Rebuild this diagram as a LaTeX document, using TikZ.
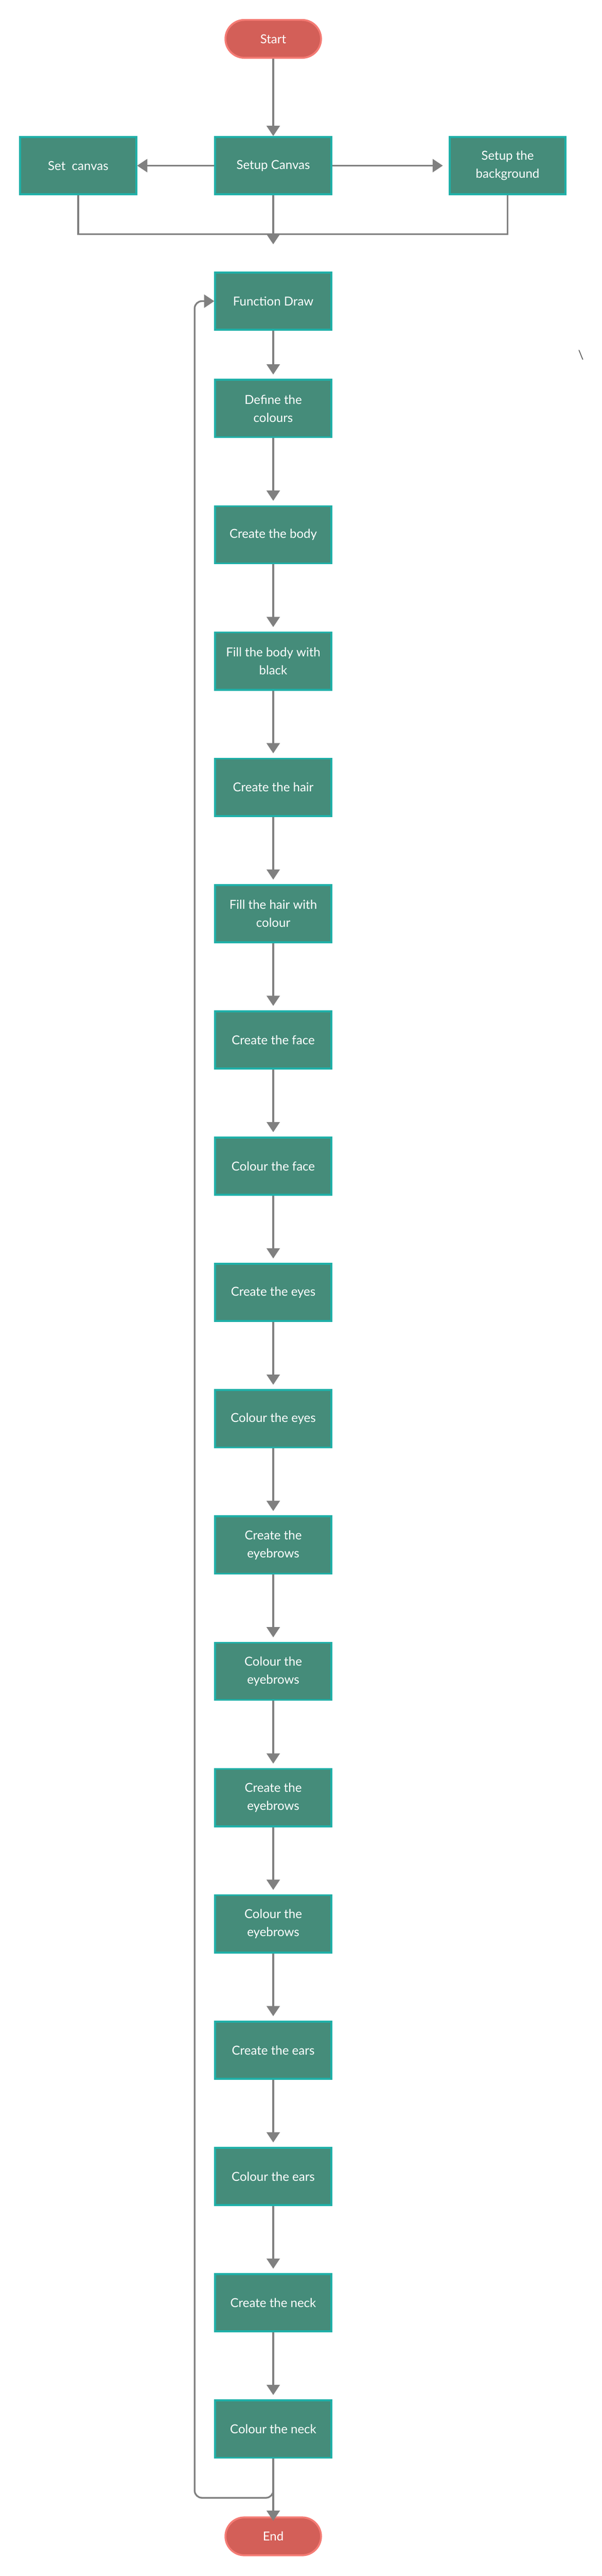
\documentclass[tikz,border=0pt]{standalone}
\usepackage{fontspec}
\setmainfont{Lato}
\usepackage{tikz}
\usetikzlibrary{arrows.meta, positioning}
\usepackage{xcolor}
\definecolor{boxfill}{HTML}{458C7A}
\definecolor{boxline}{HTML}{1FB0A8}
\definecolor{termfill}{HTML}{D35F58}
\definecolor{termline}{HTML}{F47B74}
\definecolor{linegray}{HTML}{808080}

\begin{document}
\begin{tikzpicture}[
    process/.style={rectangle, draw=boxline, fill=boxfill, line width=2.2pt, minimum height=2.36cm, minimum width=4.78cm, align=center, text=white},
    terminal/.style={rectangle, rounded corners=0.78cm, draw=termline, fill=termfill, line width=2.2pt, minimum height=1.56cm, minimum width=3.94cm, text=white},
    arrow/.style={-{Triangle[length=0.42cm, width=0.54cm]}, draw=linegray, line width=2pt},
    line/.style={draw=linegray, line width=2pt},
    node distance=2.76cm,
    every node/.append style={font=\fontsize{14.5pt}{21pt}\selectfont}
]
    \useasboundingbox (0,0) rectangle (24.8,-106.02);
    \node[terminal] (start) at (11.26,-1.6) {Start};
    \node[process, below=3.18cm of start] (setup) {Setup Canvas};
    \node[process, left=3.18cm of setup] (setcanvas) {Set\ \ canvas};
    \node[process, right=4.8cm of setup] (background) {Setup the\\background};
    \node[process, below=3.14cm of setup] (fdraw) {Function Draw};
    \node[process, below=1.98cm of fdraw] (define) {Define the\\colours};
    \node[process, below=of define] (body) {Create the body};
    \node[process, below=of body] (fillbody) {Fill the body with\\black};
    \node[process, below=of fillbody] (hair) {Create the hair};
    \node[process, below=of hair] (fillhair) {Fill the hair with\\colour};
    \node[process, below=of fillhair] (face) {Create the face};
    \node[process, below=of face] (colface) {Colour the face};
    \node[process, below=of colface] (eyes) {Create the eyes};
    \node[process, below=of eyes] (coleyes) {Colour the eyes};
    \node[process, below=of coleyes] (brows) {Create the\\eyebrows};
    \node[process, below=of brows] (colbrows) {Colour the\\eyebrows};
    \node[process, below=of colbrows] (browsb) {Create the\\eyebrows};
    \node[process, below=of browsb] (colbrowsb) {Colour the\\eyebrows};
    \node[process, below=of colbrowsb] (ears) {Create the ears};
    \node[process, below=of ears] (colears) {Colour the ears};
    \node[process, below=of colears] (neck) {Create the neck};
    \node[process, below=of neck] (colneck) {Colour the neck};
    \node[terminal, below=2.38cm of colneck] (stop) {End};
    \node[text=linegray!60!black] (slash) at (23.94,-14.62) {\textbackslash};
    \coordinate[below=2.02cm of setup.south] (merge);
    \coordinate[below=1.6cm of setup.south] (join);
    \coordinate (loopx) at (8.02,-102.8);
    \draw[arrow] (start) -- (setup);
    \draw[arrow] (setup) -- (setcanvas);
    \draw[arrow, shorten >=0.24cm] (setup) -- (background);
    \draw[arrow] (setup) -- (merge);
    \draw[line] (setcanvas.south) |- (join) -| (background.south);
    \draw[arrow, shorten >=0.18cm] (fdraw) -- (define);
    \draw[arrow, shorten >=0.18cm] (define) -- (body);
    \draw[arrow, shorten >=0.18cm] (body) -- (fillbody);
    \draw[arrow, shorten >=0.18cm] (fillbody) -- (hair);
    \draw[arrow, shorten >=0.18cm] (hair) -- (fillhair);
    \draw[arrow, shorten >=0.18cm] (fillhair) -- (face);
    \draw[arrow, shorten >=0.18cm] (face) -- (colface);
    \draw[arrow, shorten >=0.18cm] (colface) -- (eyes);
    \draw[arrow, shorten >=0.18cm] (eyes) -- (coleyes);
    \draw[arrow, shorten >=0.18cm] (coleyes) -- (brows);
    \draw[arrow, shorten >=0.18cm] (brows) -- (colbrows);
    \draw[arrow, shorten >=0.18cm] (colbrows) -- (browsb);
    \draw[arrow, shorten >=0.18cm] (browsb) -- (colbrowsb);
    \draw[arrow, shorten >=0.18cm] (colbrowsb) -- (ears);
    \draw[arrow, shorten >=0.18cm] (ears) -- (colears);
    \draw[arrow, shorten >=0.18cm] (colears) -- (neck);
    \draw[arrow, shorten >=0.18cm] (neck) -- (colneck);
    \draw[arrow, shorten >=-0.18cm] (colneck) -- (stop);
    \draw[arrow, rounded corners=0.3cm] (colneck.south) |- (loopx) |- (fdraw.west);
\end{tikzpicture}
\end{document}
